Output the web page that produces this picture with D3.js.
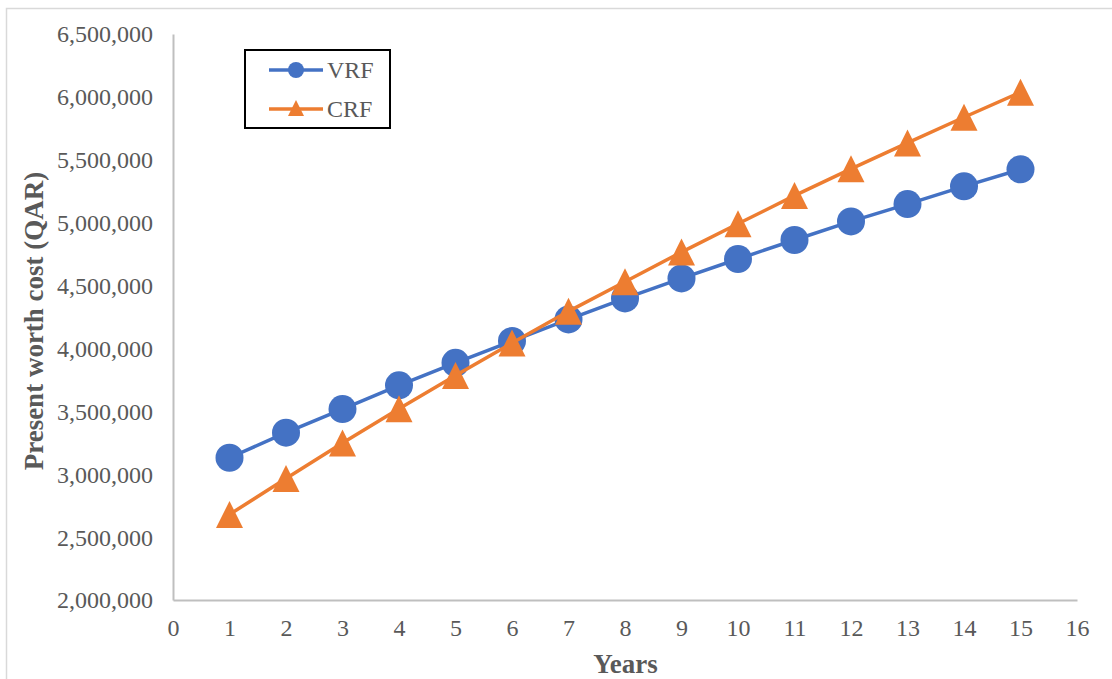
<!DOCTYPE html>
<html>
<head>
<meta charset="utf-8">
<script src="https://cdn.jsdelivr.net/npm/d3@7"></script>
<style>
  html, body { margin: 0; padding: 0; background: #ffffff; }
  svg { display: block; }
</style>
</head>
<body>
<svg id="chart" width="1112" height="679"></svg>
<script>
// Present worth cost over the study horizon for two refrigerant systems
const years = [1, 2, 3, 4, 5, 6, 7, 8, 9, 10, 11, 12, 13, 14, 15];
const vrfCost = [3131000, 3330000, 3518000, 3707000, 3886000, 4059000, 4231000, 4398000,
                 4557000, 4711000, 4862000, 5010000, 5148000, 5289000, 5424000];
const crfCost = [2680000, 2966000, 3248000, 3520000, 3785000, 4043000, 4295000, 4530000,
                 4766000, 4991000, 5215000, 5428000, 5634000, 5838000, 6037000];
const xTicks = [0, 1, 2, 3, 4, 5, 6, 7, 8, 9, 10, 11, 12, 13, 14, 15, 16];
const yTicks = [2000000, 2500000, 3000000, 3500000, 4000000, 4500000, 5000000, 5500000, 6000000, 6500000];
const seriesNames = ["VRF", "CRF"];
const seriesColors = ["#4472C4", "#ED7D31"];

const svg = d3.select("#chart");
const font = "'Liberation Serif', 'Times New Roman', serif";
const textColor = "#595959";
const axisColor = "#BFBFBF";

// outer chart frame (top and left edges visible)
svg.append("path")
  .attr("d", "M6.5,679 L6.5,8.5 L1112,8.5")
  .attr("fill", "none")
  .attr("stroke", "#D9D9D9")
  .attr("stroke-width", 1.5);

const plot = { left: 173, right: 1077, top: 34, bottom: 600 };

const x = d3.scaleLinear().domain([0, 16]).range([plot.left, plot.right]);
const y = d3.scaleLinear().domain([2000000, 6500000]).range([plot.bottom, plot.top]);

// axes
const xAxis = svg.append("g")
  .attr("transform", `translate(0,${plot.bottom})`)
  .call(d3.axisBottom(x).tickValues(xTicks).tickSize(0).tickPadding(19).tickFormat(d3.format("d")));
const yAxis = svg.append("g")
  .attr("transform", `translate(${plot.left},0)`)
  .call(d3.axisLeft(y).tickValues(yTicks).tickSize(0).tickPadding(20).tickFormat(d3.format(",")));

[xAxis, yAxis].forEach(g => {
  g.select(".domain").attr("stroke", axisColor).attr("stroke-width", 2);
  g.selectAll("text")
    .attr("fill", textColor)
    .style("font-family", font)
    .style("font-size", "24px");
});
yAxis.selectAll("text").attr("dy", "0.33em");
xAxis.selectAll("text").attr("dy", "0.7em");

// axis titles
svg.append("text")
  .attr("transform", `translate(43,321) rotate(-90)`)
  .attr("text-anchor", "middle")
  .attr("fill", textColor)
  .style("font-family", font)
  .style("font-weight", "bold")
  .style("font-size", "27px")
  .text("Present worth cost (QAR)");

svg.append("text")
  .attr("x", 625.5)
  .attr("y", 673)
  .attr("text-anchor", "middle")
  .attr("fill", textColor)
  .style("font-family", font)
  .style("font-weight", "bold")
  .style("font-size", "27px")
  .text("Years");

const line = d3.line().x(d => x(d[0])).y(d => y(d[1]));
const triSize = 27;
const triPath = (cx, cy, s) => {
  const h = s;
  return `M${cx},${cy - h / 2} L${cx + s / 2},${cy + h / 2} L${cx - s / 2},${cy + h / 2} Z`;
};

const vrfData = years.map((yr, i) => [yr, vrfCost[i]]);
const crfData = years.map((yr, i) => [yr, crfCost[i]]);

// VRF series
svg.append("path")
  .datum(vrfData)
  .attr("d", line)
  .attr("fill", "none")
  .attr("stroke", seriesColors[0])
  .attr("stroke-width", 3.5);
svg.append("g").selectAll("circle")
  .data(vrfData)
  .join("circle")
  .attr("cx", d => x(d[0]))
  .attr("cy", d => y(d[1]))
  .attr("r", 14)
  .attr("fill", seriesColors[0]);

// CRF series
svg.append("path")
  .datum(crfData)
  .attr("d", line)
  .attr("fill", "none")
  .attr("stroke", seriesColors[1])
  .attr("stroke-width", 3.5);
svg.append("g").selectAll("path")
  .data(crfData)
  .join("path")
  .attr("d", d => triPath(x(d[0]), y(d[1]), triSize))
  .attr("fill", seriesColors[1]);

// legend
const legend = svg.append("g");
legend.append("rect")
  .attr("x", 245).attr("y", 50)
  .attr("width", 145).attr("height", 78)
  .attr("fill", "#ffffff")
  .attr("stroke", "#000000")
  .attr("stroke-width", 2);

seriesNames.forEach((name, i) => {
  const cy = 70 + i * 39;
  legend.append("line")
    .attr("x1", 269).attr("x2", 323)
    .attr("y1", cy).attr("y2", cy)
    .attr("stroke", seriesColors[i])
    .attr("stroke-width", 3.5);
  if (i === 0) {
    legend.append("circle").attr("cx", 296).attr("cy", cy).attr("r", 8).attr("fill", seriesColors[i]);
  } else {
    legend.append("path").attr("d", triPath(296, cy - 1, 16)).attr("fill", seriesColors[i]);
  }
  legend.append("text")
    .attr("x", 327)
    .attr("y", cy)
    .attr("dy", "0.33em")
    .attr("fill", textColor)
    .style("font-family", font)
    .style("font-size", "24px")
    .text(name);
});
</script>
</body>
</html>
